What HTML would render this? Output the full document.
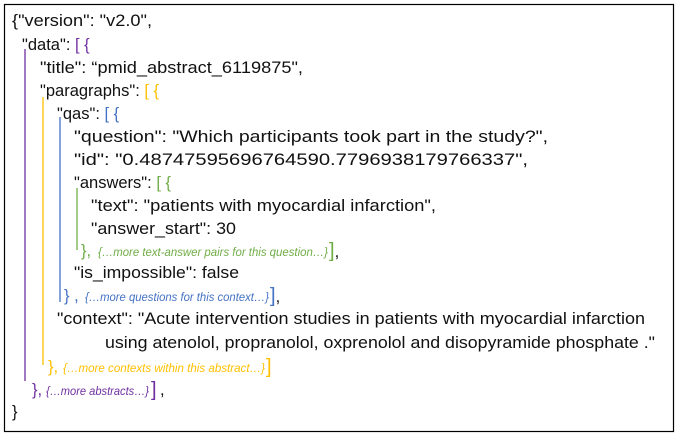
<!DOCTYPE html>
<html><head><meta charset="utf-8">
<style>
html,body{margin:0;padding:0;background:#fff;}
svg{display:block;}
text{font-family:"Liberation Sans",sans-serif;font-size:16.5px;fill:#111;}
.it{font-style:italic;font-size:12px;}
.br{font-size:20px;font-weight:100;}
.g{fill:#70ad47;} .b{fill:#4472c4;} .y{fill:#ffc000;} .p{fill:#7030a0;}
</style></head>
<body>
<svg width="678" height="437" viewBox="0 0 678 437">
<rect x="4.5" y="4.5" width="669" height="427" fill="#fff" stroke="#000" stroke-width="1.2"/>
<g>
<line x1="25" y1="49" x2="25" y2="381" stroke="#7030a0" stroke-width="1.3"/>
<line x1="43" y1="97" x2="43" y2="365" stroke="#ffc000" stroke-width="1.3"/>
<line x1="60" y1="117" x2="60" y2="302" stroke="#4472c4" stroke-width="1.3"/>
<line x1="77" y1="188" x2="77" y2="250" stroke="#70ad47" stroke-width="1.3"/>
</g>
<text x="12" y="26" textLength="140" lengthAdjust="spacingAndGlyphs">{"version": "v2.0",</text>
<text x="22" y="50">"data": <tspan class="p">[ {</tspan></text>
<text x="40" y="73" textLength="263" lengthAdjust="spacingAndGlyphs">"title": “pmid_abstract_6119875",</text>
<text x="40" y="96">"paragraphs": <tspan class="y">[ {</tspan></text>
<text x="57" y="119">"qas": <tspan class="b">[ {</tspan></text>
<text x="74" y="142" textLength="474" lengthAdjust="spacingAndGlyphs">"question": "Which participants took part in the study?",</text>
<text x="74" y="165" textLength="454" lengthAdjust="spacingAndGlyphs">"id": "0.48747595696764590.7796938179766337",</text>
<text x="74" y="188">"answers": <tspan class="g">[ {</tspan></text>
<text x="91" y="211" textLength="345" lengthAdjust="spacingAndGlyphs">"text": "patients with myocardial infarction",</text>
<text x="91" y="234" textLength="145" lengthAdjust="spacingAndGlyphs">"answer_start": 30</text>
<text x="81" y="256" class="g">},</text>
<text x="98" y="256" class="it g" textLength="230" lengthAdjust="spacingAndGlyphs">{…more text-answer pairs for this question…}</text>
<text x="329" y="257" class="g br">]<tspan fill="#111" font-size="16.5">,</tspan></text>
<text x="74" y="278" textLength="165" lengthAdjust="spacingAndGlyphs">"is_impossible": false</text>
<text x="64" y="301" class="b">} ,</text>
<text x="85" y="301" class="it b" textLength="184" lengthAdjust="spacingAndGlyphs">{…more questions for this context…}</text>
<text x="270" y="302" class="b br">]<tspan fill="#111" font-size="16.5">,</tspan></text>
<text x="57" y="324" textLength="588" lengthAdjust="spacingAndGlyphs">"context": "Acute intervention studies in patients with myocardial infarction</text>
<text x="105" y="348" textLength="550" lengthAdjust="spacingAndGlyphs">using atenolol, propranolol, oxprenolol and disopyramide phosphate ."</text>
<text x="48" y="372" class="y">},</text>
<text x="63" y="372" class="it y" textLength="202" lengthAdjust="spacingAndGlyphs">{…more contexts within this abstract…}</text>
<text x="266" y="373" class="y br">]</text>
<text x="32" y="395" class="p">},</text>
<text x="46" y="395" class="it p" textLength="103" lengthAdjust="spacingAndGlyphs">{…more abstracts…}</text>
<text x="151" y="396" class="p br">]</text>
<text x="160" y="395">,</text>
<text x="12" y="417">}</text>
</svg>
</body></html>
